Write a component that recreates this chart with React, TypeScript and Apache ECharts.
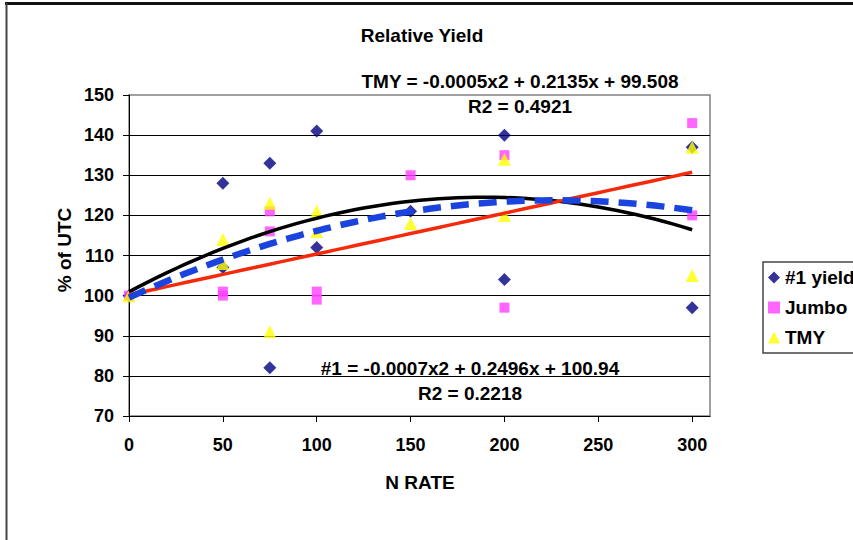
import React, { useEffect, useRef } from "react";
import * as echarts from "echarts";

// N rate (x) for each observation
const nRates = [0, 50, 50, 75, 75, 100, 100, 150, 200, 200, 300, 300];
// Relative yield (% of UTC) per variety
const yield1 = [100, 128, 107, 133, 82, 141, 112, 121, 140, 104, 137, 97];
const jumbo = [100, 101, 100, 121, 116, 101, 99, 130, 135, 97, 143, 120];
const tmy = [100, 114, 108, 123, 91, 121, 116, 118, 134, 120, 137, 105];

const seriesNames = ["#1 yield", "Jumbo", "TMY"];

// Trendline coefficients [c0, c1, c2] : y = c0 + c1*x + c2*x^2
const trend1 = [100.94, 0.2496, -0.00066];
const trendJumbo = [100.2, 0.1018, 0];
const trendTmy = [99.508, 0.2135, -0.00047];
const trendRange = [0, 300];

const xTicks = [0, 50, 100, 150, 200, 250, 300];

const titleText = "Relative Yield";
const tmyEq = "TMY = -0.0005x2 + 0.2135x + 99.508";
const tmyR2 = "R2 = 0.4921";
const y1Eq = "#1 = -0.0007x2 + 0.2496x + 100.94";
const y1R2 = "R2 = 0.2218";

const FONT = "'Liberation Sans', Arial, sans-serif";

function pairs(xs: number[], ys: number[]) {
  return xs.map((x, i) => [x, ys[i]]);
}

function trendPoints(c: number[]) {
  const pts: number[][] = [];
  for (let x = trendRange[0]; x <= trendRange[1]; x += 5) {
    pts.push([x, c[0] + c[1] * x + c[2] * x * x]);
  }
  return pts;
}

export default function App() {
  const ref = useRef<HTMLDivElement>(null);
  useEffect(() => {
    if (!ref.current) return;
    const chart = echarts.init(ref.current, undefined, { renderer: "svg" });
    const textStyle = { fontFamily: FONT, fontWeight: "bold" as const, fill: "#000" };
    chart.setOption({
      animation: false,
      backgroundColor: "#fff",
      grid: {
        left: 129,
        right: 143,
        top: 95,
        bottom: 124,
        show: true,
        borderColor: "#808080",
        borderWidth: 1.5,
      },
      xAxis: {
        type: "value",
        min: 0,
        max: 309.5,
        interval: 50,
        axisLine: { show: true, onZero: false, lineStyle: { color: "#000", width: 1 } },
        axisTick: {
          show: true,
          inside: false,
          length: 6,
          lineStyle: { color: "#000" },
          customValues: xTicks,
        },
        axisLabel: {
          customValues: xTicks,
          margin: 20,
          fontFamily: FONT,
          fontWeight: "bold",
          fontSize: 18,
          color: "#000",
        },
        splitLine: { show: false },
      },
      yAxis: {
        type: "value",
        min: 70,
        max: 150,
        interval: 10,
        axisLine: { show: true, onZero: false, lineStyle: { color: "#000", width: 1 } },
        axisTick: { show: true, inside: false, length: 6, lineStyle: { color: "#000" } },
        axisLabel: {
          margin: 15,
          fontFamily: FONT,
          fontWeight: "bold",
          fontSize: 18,
          color: "#000",
        },
        splitLine: {
          show: true,
          showMaxLine: false,
          showMinLine: false,
          lineStyle: { color: "#000", width: 1 },
        },
      },
      legend: {
        data: seriesNames,
        orient: "vertical",
        left: 768,
        top: 268,
        padding: 0,
        itemGap: 11,
        itemWidth: 12,
        itemHeight: 12,
        textStyle: { fontFamily: FONT, fontWeight: "bold", fontSize: 19, color: "#000" },
      },
      series: [
        {
          name: seriesNames[0],
          type: "scatter",
          symbol: "diamond",
          symbolSize: 13,
          itemStyle: { color: "#000080" },
          data: pairs(nRates, yield1),
          z: 2,
        },
        {
          name: seriesNames[1],
          type: "scatter",
          symbol: "rect",
          symbolSize: 10,
          itemStyle: { color: "#ff40ff" },
          data: pairs(nRates, jumbo),
          z: 2,
        },
        {
          name: seriesNames[2],
          type: "scatter",
          symbol: "triangle",
          symbolSize: 13,
          itemStyle: { color: "#ffff00" },
          data: pairs(nRates, tmy),
          z: 2,
        },
        {
          name: "#1 trend",
          type: "line",
          showSymbol: false,
          symbol: "none",
          lineStyle: { color: "#000", width: 3.5 },
          data: trendPoints(trend1),
          z: 3,
        },
        {
          name: "Jumbo trend",
          type: "line",
          showSymbol: false,
          symbol: "none",
          lineStyle: { color: "#f52a0a", width: 3.5 },
          data: trendPoints(trendJumbo),
          z: 3,
        },
        {
          name: "TMY trend",
          type: "line",
          showSymbol: false,
          symbol: "none",
          lineStyle: { color: "#1a44dd", width: 6.5, type: [18, 10] },
          data: trendPoints(trendTmy),
          z: 4,
        },
      ],
      graphic: [
        { type: "line", shape: { x1: 5, y1: 3.5, x2: 853, y2: 3.5 }, style: { stroke: "#111", lineWidth: 3 } },
        { type: "line", shape: { x1: 6.5, y1: 3, x2: 6.5, y2: 540 }, style: { stroke: "#444", lineWidth: 2 } },
        { type: "rect", shape: { x: 763, y: 262, width: 150, height: 91 }, style: { fill: "none", stroke: "#444", lineWidth: 1.5 }, z: -1 },
        { type: "text", x: 422, y: 35, style: { ...textStyle, text: titleText, fontSize: 19, textAlign: "center", textVerticalAlign: "middle" } },
        { type: "text", x: 520, y: 81, style: { ...textStyle, text: tmyEq, fontSize: 19, textAlign: "center", textVerticalAlign: "middle" } },
        { type: "text", x: 520, y: 106, style: { ...textStyle, text: tmyR2, fontSize: 19, textAlign: "center", textVerticalAlign: "middle" } },
        { type: "text", x: 470, y: 368, style: { ...textStyle, text: y1Eq, fontSize: 19, textAlign: "center", textVerticalAlign: "middle" } },
        { type: "text", x: 470, y: 393, style: { ...textStyle, text: y1R2, fontSize: 19, textAlign: "center", textVerticalAlign: "middle" } },
        { type: "text", x: 420, y: 482, style: { ...textStyle, text: "N RATE", fontSize: 19, textAlign: "center", textVerticalAlign: "middle" } },
        { type: "text", x: 64, y: 250, rotation: Math.PI / 2, style: { ...textStyle, text: "% of UTC", fontSize: 19, textAlign: "center", textVerticalAlign: "middle" } },
      ],
    });
    return () => chart.dispose();
  }, []);
  return (
    <div
      ref={ref}
      style={{ position: "fixed", left: 0, top: 0, width: 853, height: 540, background: "#fff" }}
    />
  );
}
